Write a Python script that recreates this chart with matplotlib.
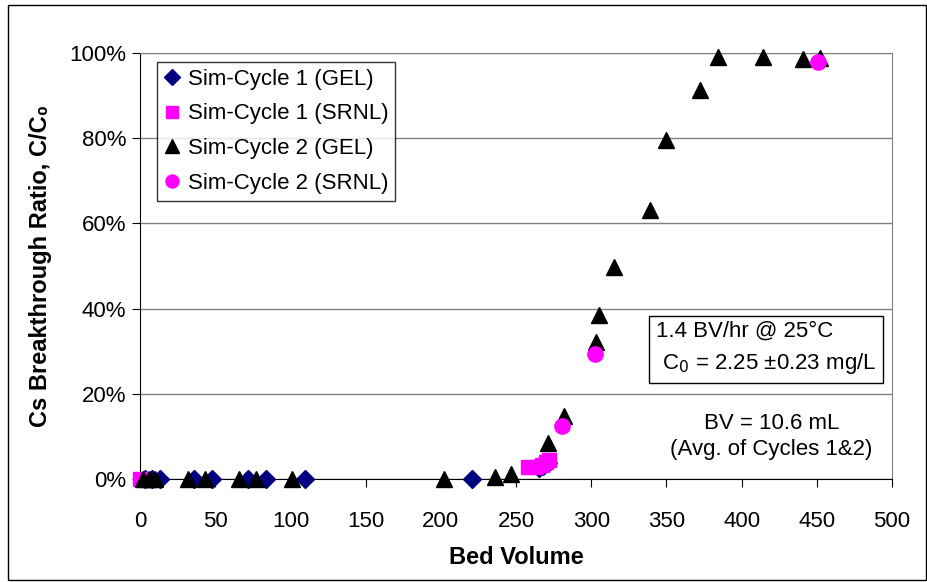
import matplotlib
matplotlib.use('Agg')
import matplotlib.pyplot as plt
from matplotlib.patches import Rectangle

plt.rcParams['font.family'] = ['Liberation Sans', 'DejaVu Sans']

# Sim-Cycle 1 (GEL)
c1_gel_bv = [3, 8, 13, 36, 48, 72, 84, 110, 221, 265, 268, 271]
c1_gel_pct = [0, 0, 0, 0, 0, 0, 0, 0, 0, 2.5, 3.0, 3.8]

# Sim-Cycle 1 (SRNL)
c1_srnl_bv = [0, 258, 263, 267, 270, 272]
c1_srnl_pct = [0, 2.7, 2.9, 3.3, 4.0, 4.5]

# Sim-Cycle 2 (GEL)
c2_gel_bv = [2, 6, 10, 32, 43, 66, 77, 101, 202, 236, 247, 271, 282,
             303, 305.5, 315, 339, 350, 372.5, 384, 414, 441, 452]
c2_gel_pct = [0, 0, 0, 0, 0, 0, 0, 0, 0, 0.5, 1.2, 8.4, 14.8,
              32.2, 38.5, 49.8, 63.1, 79.6, 91.3, 99.0, 99.0, 98.5, 98.8]

# Sim-Cycle 2 (SRNL)
c2_srnl_bv = [280.5, 302.6, 451]
c2_srnl_pct = [12.5, 29.3, 98.0]

x_ticks = list(range(0, 501, 50))
y_ticks = [0, 20, 40, 60, 80, 100]

fs = 16

fig = plt.figure(figsize=(9.28, 5.82), dpi=100)
ax = fig.add_axes([140 / 928, 103 / 582, 752 / 928, 426 / 582])

ax.plot(c1_gel_bv, c1_gel_pct, linestyle='none', marker='D', ms=9,
        color='#000080', label='Sim-Cycle 1 (GEL)', clip_on=False, zorder=3)
ax.plot(c1_srnl_bv, c1_srnl_pct, linestyle='none', marker='s', ms=10.5,
        color='#ff00ff', label='Sim-Cycle 1 (SRNL)', clip_on=False, zorder=4)
ax.plot(c2_gel_bv, c2_gel_pct, linestyle='none', marker='^', ms=11.5,
        color='black', label='Sim-Cycle 2 (GEL)', clip_on=False, zorder=5)
ax.plot(c2_srnl_bv, c2_srnl_pct, linestyle='none', marker='o', ms=11,
        color='#ff00ff', label='Sim-Cycle 2 (SRNL)', clip_on=False, zorder=6)

ax.set_xlim(0, 500)
ax.set_ylim(0, 100)
ax.set_xticks(x_ticks)
ax.set_yticks(y_ticks)
ax.set_yticklabels([f'{v}%' for v in y_ticks])
ax.tick_params(labelsize=fs, length=6, direction='out', color='black')
ax.tick_params(axis='x', pad=17)
ax.tick_params(axis='y', pad=4)
ax.yaxis.grid(True, color='#808080', linewidth=1)
ax.set_axisbelow(True)

for side in ['top', 'right']:
    ax.spines[side].set_color('#808080')
for side in ['left', 'bottom']:
    ax.spines[side].set_color('black')

ax.set_xlabel('Bed Volume', fontsize=17, fontweight='bold', labelpad=10)
ax.set_ylabel('Cs Breakthrough Ratio, C/C\u2080', fontsize=17,
              fontweight='bold', labelpad=12)

leg = ax.legend(loc='upper left', bbox_to_anchor=(0.022, 0.979), fontsize=fs,
                frameon=True, fancybox=False, edgecolor='black',
                handletextpad=0.3, handlelength=0.8, labelspacing=0.62,
                borderpad=0.3, borderaxespad=0, markerscale=0.85)
leg.get_frame().set_linewidth(1)

ax.text(0.686, 0.306, '1.4 BV/hr @ 25\u00b0C\n C$_0$ = 2.25 \u00b10.23 mg/L',
        transform=ax.transAxes, fontsize=fs, va='center', ha='left',
        linespacing=1.5,
        bbox=dict(boxstyle='square,pad=0.3', facecolor='white',
                  edgecolor='black', linewidth=1))
ax.text(0.840, 0.099, 'BV = 10.6 mL\n(Avg. of Cycles 1&2)',
        transform=ax.transAxes, fontsize=fs, va='center', ha='center',
        linespacing=1.3)

fig.patches.append(Rectangle((8 / 928, 2 / 582), 918 / 928, 575 / 582,
                             transform=fig.transFigure, fill=False,
                             edgecolor='black', linewidth=1))

fig.savefig('out.png', dpi=100)
